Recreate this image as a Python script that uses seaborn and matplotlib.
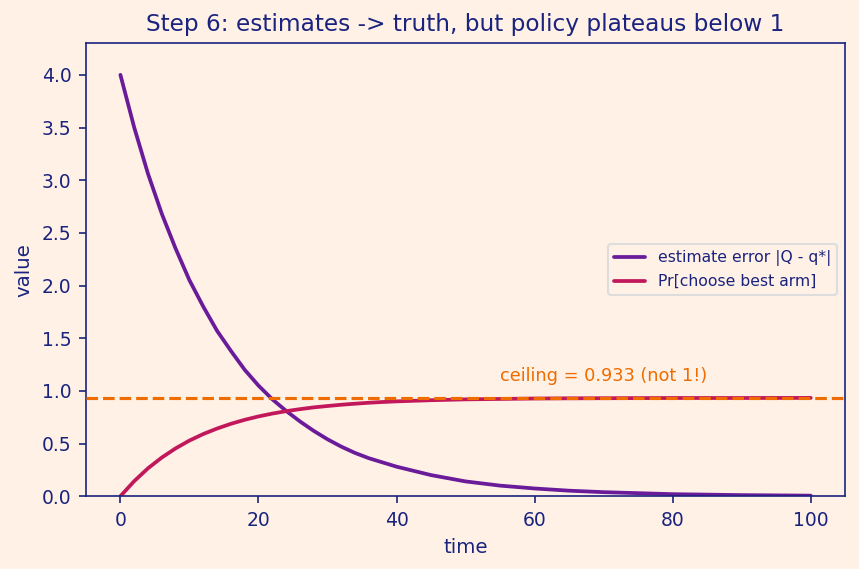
import seaborn as sns
import pandas as pd
import matplotlib.pyplot as plt

# values
time = [0, 2, 4, 6, 8, 10, 12, 14, 16, 18, 20, 22, 24, 26, 28, 30,
        32, 34, 36, 38, 40, 45, 50, 55, 60, 65, 70, 80, 90, 100]
est_error = [4.00, 3.50, 3.06, 2.68, 2.35, 2.05, 1.80, 1.57, 1.38, 1.20, 1.05,
             0.92, 0.81, 0.71, 0.62, 0.54, 0.47, 0.41, 0.36, 0.32, 0.28,
             0.20, 0.14, 0.10, 0.073, 0.052, 0.038, 0.019, 0.010, 0.005]
pr_best = [0.0, 0.143, 0.265, 0.367, 0.454, 0.528, 0.590, 0.642, 0.687, 0.725,
           0.757, 0.784, 0.807, 0.826, 0.843, 0.856, 0.868, 0.878, 0.887, 0.894,
           0.900, 0.911, 0.919, 0.923, 0.927, 0.929, 0.930, 0.932, 0.932, 0.933]
ceiling = 0.933

labels = ["estimate error |Q - q*|", "Pr[choose best arm]"]
colors = ["#6a1b9a", "#c2185b"]
navy = "#1a237e"
orange = "#ef6c00"
bg = "#fff1e6"

df = pd.DataFrame({
    "time": time * 2,
    "value": est_error + pr_best,
    "series": [labels[0]] * len(time) + [labels[1]] * len(time),
})

sns.set_style("white")
plt.rcParams["font.family"] = ["DejaVu Sans"]

fig, ax = plt.subplots(figsize=(8.59 / 1.5, 5.69 / 1.5), dpi=150)
fig.patch.set_facecolor(bg)
ax.set_facecolor(bg)
fig.subplots_adjust(left=0.100, right=0.984, top=0.924, bottom=0.128)

sns.lineplot(data=df, x="time", y="value", hue="series", palette=colors,
             linewidth=1.8, ax=ax)
ax.axhline(ceiling, color=orange, linestyle="--", linewidth=1.5, zorder=5)
ax.text(55, ceiling + 0.12, f"ceiling = {ceiling} (not 1!)", color=orange,
        fontsize=8.5, va="bottom")

ax.set_xlim(-5, 105)
ax.set_ylim(0, 4.3)
ax.set_title("Step 6: estimates -> truth, but policy plateaus below 1",
             color=navy, fontsize=11.2)
ax.set_xlabel("time", color=navy, fontsize=9.5)
ax.set_ylabel("value", color=navy, fontsize=9.5)
ax.tick_params(colors=navy, labelsize=9, length=3.5, left=True, bottom=True)
for s in ax.spines.values():
    s.set_color(navy)
    s.set_linewidth(0.8)

leg = ax.legend(loc="center right", fontsize=7.5, facecolor=bg,
                edgecolor="#dddddd", framealpha=1)
for t in leg.get_texts():
    t.set_color(navy)

fig.savefig("out.png", dpi=150, facecolor=bg)
